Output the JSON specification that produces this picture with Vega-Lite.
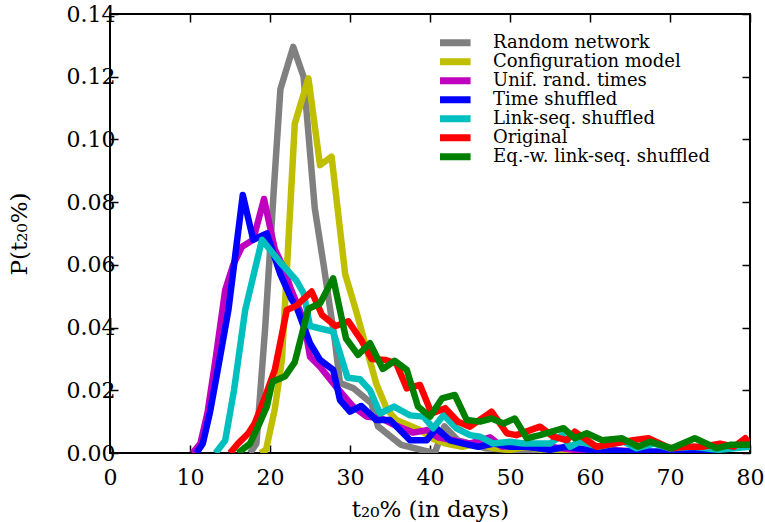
{
  "$schema": "https://vega.github.io/schema/vega-lite/v6.json",
  "width": 640,
  "height": 439,
  "autosize": {"type": "none"},
  "padding": {"left": 110, "top": 14, "right": 15, "bottom": 69},
  "background": "white",
  "config": {
    "view": {"stroke": "black", "strokeWidth": 2},
    "font": "DejaVu Serif",
    "axis": {"labelFont": "DejaVu Serif", "titleFont": "DejaVu Serif", "labelColor": "black", "titleColor": "black", "grid": false, "domain": false, "tickColor": "black", "tickWidth": 1.5, "titleFontWeight": "normal"}
  },
  "data": {"values": [
    {"s":"Random network","d":17.5,"p":0},{"s":"Random network","d":18.3,"p":0.003},{"s":"Random network","d":19.4,"p":0.04},{"s":"Random network","d":20.5,"p":0.085},{"s":"Random network","d":21.3,"p":0.116},{"s":"Random network","d":22.9,"p":0.1295},{"s":"Random network","d":24.2,"p":0.12},{"s":"Random network","d":25.6,"p":0.078},{"s":"Random network","d":26.7,"p":0.06},{"s":"Random network","d":28.1,"p":0.036},{"s":"Random network","d":28.75,"p":0.0223},{"s":"Random network","d":30.4,"p":0.0207},{"s":"Random network","d":32.7,"p":0.0158},{"s":"Random network","d":33.5,"p":0.0085},{"s":"Random network","d":36.4,"p":0.0026},{"s":"Random network","d":39.2,"p":0.0008},{"s":"Random network","d":40.6,"p":0},{"s":"Random network","d":41.8,"p":0.0085},{"s":"Random network","d":43.5,"p":0.004},{"s":"Random network","d":45,"p":0.003},{"s":"Random network","d":47,"p":0.0015},{"s":"Random network","d":50,"p":0.001},{"s":"Random network","d":55,"p":0.0005},{"s":"Random network","d":60,"p":0},
    {"s":"Configuration model","d":18.8,"p":0},{"s":"Configuration model","d":19.5,"p":0.001},{"s":"Configuration model","d":20.6,"p":0.014},{"s":"Configuration model","d":21.5,"p":0.03},{"s":"Configuration model","d":23.1,"p":0.105},{"s":"Configuration model","d":24.8,"p":0.1195},{"s":"Configuration model","d":26.25,"p":0.0918},{"s":"Configuration model","d":27.7,"p":0.0945},{"s":"Configuration model","d":29.4,"p":0.057},{"s":"Configuration model","d":30.8,"p":0.045},{"s":"Configuration model","d":32.1,"p":0.033},{"s":"Configuration model","d":33.3,"p":0.022},{"s":"Configuration model","d":34.6,"p":0.014},{"s":"Configuration model","d":35.8,"p":0.0105},{"s":"Configuration model","d":38.75,"p":0.0073},{"s":"Configuration model","d":40.4,"p":0.0045},{"s":"Configuration model","d":42,"p":0.003},{"s":"Configuration model","d":44,"p":0.002},{"s":"Configuration model","d":46,"p":0.003},{"s":"Configuration model","d":48,"p":0.0015},{"s":"Configuration model","d":50,"p":0.001},{"s":"Configuration model","d":52,"p":0.002},{"s":"Configuration model","d":55,"p":0.0005},{"s":"Configuration model","d":60,"p":0},
    {"s":"Unif. rand. times","d":10.3,"p":0},{"s":"Unif. rand. times","d":11.3,"p":0.003},{"s":"Unif. rand. times","d":12.2,"p":0.013},{"s":"Unif. rand. times","d":13.2,"p":0.03},{"s":"Unif. rand. times","d":14.4,"p":0.052},{"s":"Unif. rand. times","d":15.4,"p":0.06},{"s":"Unif. rand. times","d":16.5,"p":0.0658},{"s":"Unif. rand. times","d":17.9,"p":0.068},{"s":"Unif. rand. times","d":19.25,"p":0.081},{"s":"Unif. rand. times","d":20.6,"p":0.065},{"s":"Unif. rand. times","d":21.9,"p":0.058},{"s":"Unif. rand. times","d":22.5,"p":0.053},{"s":"Unif. rand. times","d":24.2,"p":0.0424},{"s":"Unif. rand. times","d":25,"p":0.0307},{"s":"Unif. rand. times","d":26.25,"p":0.0275},{"s":"Unif. rand. times","d":28.3,"p":0.021},{"s":"Unif. rand. times","d":30.4,"p":0.0148},{"s":"Unif. rand. times","d":32.1,"p":0.0116},{"s":"Unif. rand. times","d":34,"p":0.011},{"s":"Unif. rand. times","d":35.5,"p":0.009},{"s":"Unif. rand. times","d":37.9,"p":0.0065},{"s":"Unif. rand. times","d":39.6,"p":0.0073},{"s":"Unif. rand. times","d":41,"p":0.005},{"s":"Unif. rand. times","d":43,"p":0.004},{"s":"Unif. rand. times","d":45,"p":0.003},{"s":"Unif. rand. times","d":47.5,"p":0.005},{"s":"Unif. rand. times","d":49,"p":0.002},{"s":"Unif. rand. times","d":52,"p":0.003},{"s":"Unif. rand. times","d":55,"p":0.002},{"s":"Unif. rand. times","d":58,"p":0.001},{"s":"Unif. rand. times","d":62,"p":0.001},{"s":"Unif. rand. times","d":66,"p":0.0005},{"s":"Unif. rand. times","d":70,"p":0},
    {"s":"Time shuffled","d":10.8,"p":0},{"s":"Time shuffled","d":11.6,"p":0.003},{"s":"Time shuffled","d":12.5,"p":0.013},{"s":"Time shuffled","d":13.5,"p":0.027},{"s":"Time shuffled","d":14.8,"p":0.0456},{"s":"Time shuffled","d":16.6,"p":0.0823},{"s":"Time shuffled","d":17.9,"p":0.068},{"s":"Time shuffled","d":19.6,"p":0.07},{"s":"Time shuffled","d":21.25,"p":0.0573},{"s":"Time shuffled","d":22.7,"p":0.049},{"s":"Time shuffled","d":23.3,"p":0.0467},{"s":"Time shuffled","d":25,"p":0.035},{"s":"Time shuffled","d":26.25,"p":0.0297},{"s":"Time shuffled","d":27.9,"p":0.0265},{"s":"Time shuffled","d":28.75,"p":0.0169},{"s":"Time shuffled","d":30,"p":0.0132},{"s":"Time shuffled","d":31.4,"p":0.015},{"s":"Time shuffled","d":33.3,"p":0.0105},{"s":"Time shuffled","d":35,"p":0.0105},{"s":"Time shuffled","d":37.5,"p":0.0041},{"s":"Time shuffled","d":39.6,"p":0.0041},{"s":"Time shuffled","d":40.8,"p":0.0079},{"s":"Time shuffled","d":42.5,"p":0.004},{"s":"Time shuffled","d":44.2,"p":0.003},{"s":"Time shuffled","d":46,"p":0.002},{"s":"Time shuffled","d":48,"p":0.003},{"s":"Time shuffled","d":50,"p":0.002},{"s":"Time shuffled","d":52,"p":0.002},{"s":"Time shuffled","d":55,"p":0.001},{"s":"Time shuffled","d":57,"p":0.002},{"s":"Time shuffled","d":60,"p":0.001},{"s":"Time shuffled","d":65,"p":0.0005},{"s":"Time shuffled","d":70,"p":0.0005},{"s":"Time shuffled","d":73,"p":0.001},{"s":"Time shuffled","d":76,"p":0},
    {"s":"Link-seq. shuffled","d":13.2,"p":0},{"s":"Link-seq. shuffled","d":14.4,"p":0.004},{"s":"Link-seq. shuffled","d":15.5,"p":0.02},{"s":"Link-seq. shuffled","d":16.9,"p":0.0456},{"s":"Link-seq. shuffled","d":19,"p":0.068},{"s":"Link-seq. shuffled","d":21.2,"p":0.061},{"s":"Link-seq. shuffled","d":23.3,"p":0.055},{"s":"Link-seq. shuffled","d":24.2,"p":0.051},{"s":"Link-seq. shuffled","d":25,"p":0.0405},{"s":"Link-seq. shuffled","d":27.9,"p":0.0387},{"s":"Link-seq. shuffled","d":29.7,"p":0.024},{"s":"Link-seq. shuffled","d":31.25,"p":0.0235},{"s":"Link-seq. shuffled","d":32.5,"p":0.02},{"s":"Link-seq. shuffled","d":33.75,"p":0.0126},{"s":"Link-seq. shuffled","d":35.5,"p":0.0148},{"s":"Link-seq. shuffled","d":37.5,"p":0.012},{"s":"Link-seq. shuffled","d":39.2,"p":0.0116},{"s":"Link-seq. shuffled","d":40.4,"p":0.0079},{"s":"Link-seq. shuffled","d":41.7,"p":0.0121},{"s":"Link-seq. shuffled","d":43.3,"p":0.0079},{"s":"Link-seq. shuffled","d":45,"p":0.0057},{"s":"Link-seq. shuffled","d":46.25,"p":0.0052},{"s":"Link-seq. shuffled","d":47.9,"p":0.003},{"s":"Link-seq. shuffled","d":50,"p":0.0036},{"s":"Link-seq. shuffled","d":51.7,"p":0.003},{"s":"Link-seq. shuffled","d":55,"p":0.003},{"s":"Link-seq. shuffled","d":56.5,"p":0.0057},{"s":"Link-seq. shuffled","d":57.5,"p":0.002},{"s":"Link-seq. shuffled","d":58.75,"p":0.0036},{"s":"Link-seq. shuffled","d":61,"p":0.002},{"s":"Link-seq. shuffled","d":64.2,"p":0.0036},{"s":"Link-seq. shuffled","d":65.8,"p":0.0015},{"s":"Link-seq. shuffled","d":68,"p":0.003},{"s":"Link-seq. shuffled","d":70,"p":0.0015},{"s":"Link-seq. shuffled","d":73,"p":0.002},{"s":"Link-seq. shuffled","d":76,"p":0.001},{"s":"Link-seq. shuffled","d":80,"p":0.002},
    {"s":"Original","d":15,"p":0},{"s":"Original","d":16,"p":0.003},{"s":"Original","d":17.3,"p":0.0063},{"s":"Original","d":18.1,"p":0.0095},{"s":"Original","d":19.4,"p":0.018},{"s":"Original","d":20.6,"p":0.0265},{"s":"Original","d":22.1,"p":0.0456},{"s":"Original","d":23.3,"p":0.047},{"s":"Original","d":25.2,"p":0.0515},{"s":"Original","d":26.5,"p":0.044},{"s":"Original","d":28.2,"p":0.0405},{"s":"Original","d":29.8,"p":0.042},{"s":"Original","d":31.4,"p":0.036},{"s":"Original","d":32.7,"p":0.03},{"s":"Original","d":34.4,"p":0.0297},{"s":"Original","d":35.8,"p":0.0285},{"s":"Original","d":37.1,"p":0.0206},{"s":"Original","d":38.75,"p":0.0217},{"s":"Original","d":40.2,"p":0.0126},{"s":"Original","d":41.9,"p":0.0143},{"s":"Original","d":43.5,"p":0.01},{"s":"Original","d":45,"p":0.0084},{"s":"Original","d":47.7,"p":0.0132},{"s":"Original","d":49.6,"p":0.0063},{"s":"Original","d":50.8,"p":0.0057},{"s":"Original","d":53.75,"p":0.0084},{"s":"Original","d":55.4,"p":0.0052},{"s":"Original","d":57.1,"p":0.0041},{"s":"Original","d":58.1,"p":0.0068},{"s":"Original","d":60.8,"p":0.002},{"s":"Original","d":63,"p":0.003},{"s":"Original","d":65.4,"p":0.0041},{"s":"Original","d":67.3,"p":0.0047},{"s":"Original","d":70,"p":0.0015},{"s":"Original","d":72,"p":0.002},{"s":"Original","d":74,"p":0.002},{"s":"Original","d":76.25,"p":0.003},{"s":"Original","d":78,"p":0.002},{"s":"Original","d":79.4,"p":0.0047},{"s":"Original","d":80,"p":0.003},
    {"s":"Eq.-w. link-seq. shuffled","d":16,"p":0},{"s":"Eq.-w. link-seq. shuffled","d":17.5,"p":0.003},{"s":"Eq.-w. link-seq. shuffled","d":18.5,"p":0.0084},{"s":"Eq.-w. link-seq. shuffled","d":19.6,"p":0.0148},{"s":"Eq.-w. link-seq. shuffled","d":20.3,"p":0.0227},{"s":"Eq.-w. link-seq. shuffled","d":21.9,"p":0.0245},{"s":"Eq.-w. link-seq. shuffled","d":23.1,"p":0.029},{"s":"Eq.-w. link-seq. shuffled","d":24.8,"p":0.046},{"s":"Eq.-w. link-seq. shuffled","d":26.25,"p":0.0477},{"s":"Eq.-w. link-seq. shuffled","d":27.9,"p":0.0557},{"s":"Eq.-w. link-seq. shuffled","d":29.5,"p":0.0365},{"s":"Eq.-w. link-seq. shuffled","d":31,"p":0.0313},{"s":"Eq.-w. link-seq. shuffled","d":32.5,"p":0.035},{"s":"Eq.-w. link-seq. shuffled","d":34.1,"p":0.0268},{"s":"Eq.-w. link-seq. shuffled","d":35.6,"p":0.0294},{"s":"Eq.-w. link-seq. shuffled","d":37.1,"p":0.0265},{"s":"Eq.-w. link-seq. shuffled","d":38.5,"p":0.0148},{"s":"Eq.-w. link-seq. shuffled","d":40,"p":0.0116},{"s":"Eq.-w. link-seq. shuffled","d":41.5,"p":0.0174},{"s":"Eq.-w. link-seq. shuffled","d":43.1,"p":0.0185},{"s":"Eq.-w. link-seq. shuffled","d":44.6,"p":0.0105},{"s":"Eq.-w. link-seq. shuffled","d":46.25,"p":0.01},{"s":"Eq.-w. link-seq. shuffled","d":47.7,"p":0.011},{"s":"Eq.-w. link-seq. shuffled","d":49.2,"p":0.0094},{"s":"Eq.-w. link-seq. shuffled","d":50.6,"p":0.011},{"s":"Eq.-w. link-seq. shuffled","d":52.1,"p":0.0047},{"s":"Eq.-w. link-seq. shuffled","d":53.75,"p":0.0057},{"s":"Eq.-w. link-seq. shuffled","d":56.7,"p":0.0079},{"s":"Eq.-w. link-seq. shuffled","d":58.1,"p":0.0047},{"s":"Eq.-w. link-seq. shuffled","d":59.6,"p":0.0063},{"s":"Eq.-w. link-seq. shuffled","d":61.5,"p":0.0041},{"s":"Eq.-w. link-seq. shuffled","d":64,"p":0.0047},{"s":"Eq.-w. link-seq. shuffled","d":66,"p":0.002},{"s":"Eq.-w. link-seq. shuffled","d":67.5,"p":0.0036},{"s":"Eq.-w. link-seq. shuffled","d":70.2,"p":0.0015},{"s":"Eq.-w. link-seq. shuffled","d":73.1,"p":0.0047},{"s":"Eq.-w. link-seq. shuffled","d":75.8,"p":0.0015},{"s":"Eq.-w. link-seq. shuffled","d":77.5,"p":0.0026},{"s":"Eq.-w. link-seq. shuffled","d":80,"p":0.0026}
  ]},
  "layer": [
    {
      "mark": {"type": "line", "strokeWidth": 6.5, "strokeJoin": "round", "clip": true},
      "encoding": {
        "x": {"field": "d", "type": "quantitative", "scale": {"domain": [0, 80], "nice": false},
              "axis": {"orient": "bottom", "values": [0,10,20,30,40,50,60,70,80], "title": "t₂₀% (in days)", "labelFontSize": 22, "titleFontSize": 23, "tickSize": -8, "labelPadding": 22, "titlePadding": 10, "labelFlush": false}},
        "y": {"field": "p", "type": "quantitative", "scale": {"domain": [0, 0.14], "nice": false},
              "axis": {"orient": "left", "values": [0,0.02,0.04,0.06,0.08,0.1,0.12,0.14], "format": ".2f", "title": "P(t₂₀%)", "labelFontSize": 22, "titleFontSize": 23, "tickSize": -8, "labelPadding": 3, "titlePadding": 35, "labelFlush": false}},
        "color": {"field": "s", "type": "nominal", "sort": null,
          "scale": {"domain": ["Random network","Configuration model","Unif. rand. times","Time shuffled","Link-seq. shuffled","Original","Eq.-w. link-seq. shuffled"],
                    "range": ["#808080","#bfbf00","#bf00bf","#0000ff","#00bfbf","#ff0000","#008000"]},
          "legend": {"title": null, "orient": "none", "legendX": 330, "legendY": 20, "symbolType": "M-1.85,0H1.85", "symbolSize": 361, "symbolStrokeWidth": 7, "labelFontSize": 18, "labelFont": "DejaVu Serif", "labelOffset": 27, "rowPadding": 0, "clipHeight": 17.3, "padding": 0, "labelLimit": 400}},
        "order": {"field": "d", "type": "quantitative"}
      }
    },
    {
      "mark": {"type": "point", "opacity": 0},
      "encoding": {
        "x": {"field": "d", "type": "quantitative", "axis": {"orient": "top", "values": [0,10,20,30,40,50,60,70,80], "labels": false, "title": null, "tickSize": -8}},
        "y": {"field": "p", "type": "quantitative", "axis": {"orient": "right", "values": [0,0.02,0.04,0.06,0.08,0.1,0.12,0.14], "labels": false, "title": null, "tickSize": -8}}
      }
    }
  ],
  "resolve": {"axis": {"x": "independent", "y": "independent"}}
}
